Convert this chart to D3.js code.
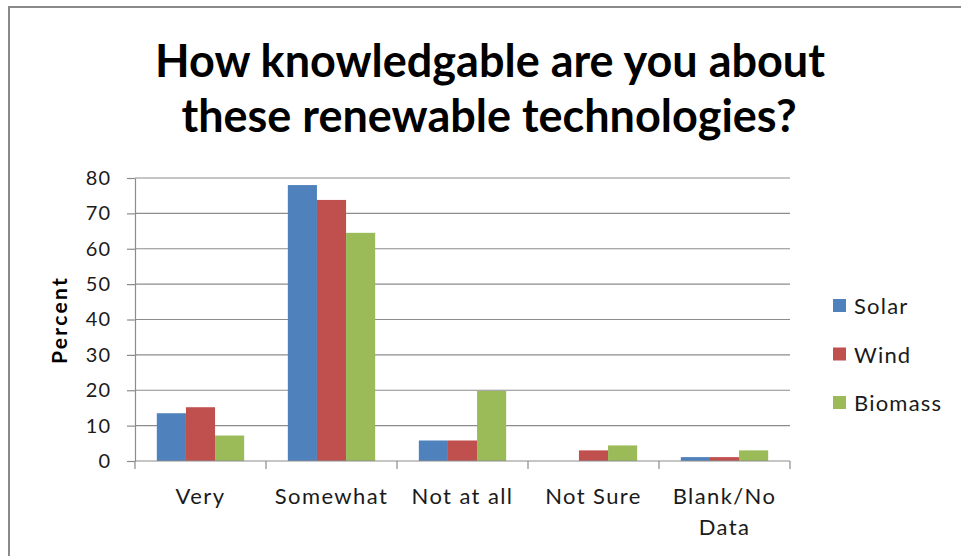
<!DOCTYPE html>
<html>
<head>
<meta charset="utf-8">
<script src="https://cdn.jsdelivr.net/npm/d3@7"></script>
<style>
  html, body { margin: 0; padding: 0; background: #fff; }
  svg { display: block; }
</style>
</head>
<body>
<svg id="chart" width="961" height="556"></svg>
<script>
// Survey answers, percent of respondents per technology
const categories = ["Very", "Somewhat", "Not at all", "Not Sure", "Blank/No Data"];
const seriesNames = ["Solar", "Wind", "Biomass"];
const solar   = [13.5, 78.0, 5.8, 0.0, 1.1];
const wind    = [15.2, 73.8, 5.8, 3.0, 1.1];
const biomass = [7.2, 64.5, 19.8, 4.4, 3.0];
const yTicks  = [0, 10, 20, 30, 40, 50, 60, 70, 80];
const colors  = ["#4f81bd", "#c0504d", "#9bbb59"];

const seriesValues = [solar, wind, biomass];
const font = "Lato, 'Open Sans', sans-serif";

const svg = d3.select("#chart");

// outer frame
svg.append("rect")
  .attr("x", 9).attr("y", 7)
  .attr("width", 980).attr("height", 600)
  .attr("fill", "none").attr("stroke", "#8a8a8a").attr("stroke-width", 2);

const plot = { left: 135, right: 790, top: 178, bottom: 461 };

const x0 = d3.scaleBand().domain(categories).range([plot.left, plot.right]).padding(0);
const cw = x0.bandwidth();
const x1 = d3.scaleBand().domain(seriesNames).range([cw / 6, cw * 5 / 6]).padding(0);
const y = d3.scaleLinear().domain([0, 80]).range([plot.bottom, plot.top]);

// title
const title = svg.append("text")
  .attr("text-anchor", "middle")
  .attr("font-family", font).attr("font-weight", "bold")
  .attr("font-size", 45).attr("fill", "#000");
title.append("tspan").attr("x", 490).attr("y", 77).text("How knowledgable are you about");
title.append("tspan").attr("x", 489).attr("y", 132).text("these renewable technologies?");

// horizontal gridlines
svg.append("g").selectAll("line")
  .data(yTicks.filter(d => d > 0))
  .join("line")
  .attr("x1", plot.left).attr("x2", plot.right)
  .attr("y1", d => y(d)).attr("y2", d => y(d))
  .attr("stroke", "#8c8c8c").attr("stroke-width", 1.2);

// bars
const groups = svg.append("g").selectAll("g")
  .data(categories)
  .join("g")
  .attr("transform", d => `translate(${x0(d)},0)`);

groups.selectAll("rect")
  .data((c, i) => seriesNames.map((s, k) => ({ s, v: seriesValues[k][i], k })))
  .join("rect")
  .attr("x", d => x1(d.s))
  .attr("width", x1.bandwidth())
  .attr("y", d => y(d.v))
  .attr("height", d => y(0) - y(d.v))
  .attr("fill", d => colors[d.k]);

// y axis
const yAxis = svg.append("g")
  .attr("transform", `translate(${plot.left},0)`)
  .call(d3.axisLeft(y).tickValues(yTicks).tickSize(8).tickPadding(16).tickSizeOuter(0));
yAxis.select(".domain").attr("stroke", "#8c8c8c").attr("stroke-width", 1.2);
yAxis.selectAll(".tick line").attr("stroke", "#8c8c8c").attr("stroke-width", 1.2);
yAxis.selectAll(".tick text")
  .attr("font-family", font).attr("font-size", 20)
  .attr("letter-spacing", 1).attr("fill", "#1a1a1a");

// x axis with tick marks at category boundaries
const xAxisG = svg.append("g").attr("transform", `translate(0,${plot.bottom})`);
xAxisG.append("line")
  .attr("x1", plot.left).attr("x2", plot.right)
  .attr("stroke", "#8c8c8c").attr("stroke-width", 1.2);
const bounds = categories.map(c => x0(c)).concat([plot.right]);
xAxisG.selectAll("line.tk")
  .data(bounds)
  .join("line").attr("class", "tk")
  .attr("x1", d => d).attr("x2", d => d)
  .attr("y1", 0).attr("y2", 8)
  .attr("stroke", "#8c8c8c").attr("stroke-width", 1.2);

const catLabels = svg.append("g").selectAll("text")
  .data(categories)
  .join("text")
  .attr("text-anchor", "middle")
  .attr("font-family", font).attr("font-size", 22)
  .attr("letter-spacing", 1.4).attr("fill", "#1a1a1a");
catLabels.each(function (d) {
  const t = d3.select(this);
  const cx = x0(d) + cw / 2;
  const lines = d === "Blank/No Data" ? ["Blank/No", "Data"] : [d];
  lines.forEach((ln, i) => {
    t.append("tspan").attr("x", cx).attr("y", 504 + i * 31).text(ln);
  });
});

// y axis title
svg.append("text")
  .attr("transform", "translate(67,320) rotate(-90)")
  .attr("text-anchor", "middle")
  .attr("font-family", font).attr("font-weight", "bold")
  .attr("font-size", 21).attr("letter-spacing", 2.3).attr("fill", "#000")
  .text("Percent");

// legend
const legend = svg.append("g").selectAll("g")
  .data(seriesNames)
  .join("g")
  .attr("transform", (d, i) => `translate(833,${306 + i * 48.5})`);
legend.append("rect")
  .attr("x", 0).attr("y", -7).attr("width", 13).attr("height", 13)
  .attr("fill", (d, i) => colors[i]);
legend.append("text")
  .attr("x", 21).attr("y", 8)
  .attr("font-family", font).attr("font-size", 22)
  .attr("letter-spacing", 1.2).attr("fill", "#1a1a1a")
  .text(d => d);
</script>
</body>
</html>
